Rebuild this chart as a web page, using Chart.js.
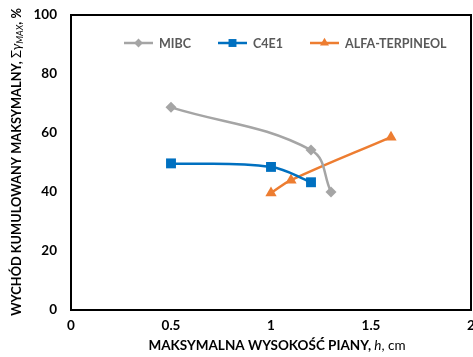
<!DOCTYPE html>
<html>
<head>
<meta charset="utf-8">
<script src="https://cdn.jsdelivr.net/npm/chart.js@4"></script>
<style>
  html, body { margin: 0; padding: 0; background: #fff; }
  #wrap { width: 473px; height: 357px; }
</style>
</head>
<body>
<div id="wrap"><canvas id="myChart" width="473" height="357"></canvas></div>
<script>
const xTickLabels = ["0", "0.5", "1", "1.5", "2"];
const yTickLabels = ["0", "20", "40", "60", "80", "100"];

const mibcX = [0.5, 1.2, 1.3];
const mibcY = [68.7, 54.2, 40];
const c4e1X = [0.5, 1.0, 1.2];
const c4e1Y = [49.7, 48.5, 43.3];
const alfaX = [1.0, 1.1, 1.6];
const alfaY = [39.7, 44, 58.6];

const FONT = "Lato, 'Open Sans', sans-serif";

const toPoints = (xs, ys) => xs.map((x, i) => ({ x: x, y: ys[i] }));

const series = [
  { label: "MIBC", color: "#A5A5A5", style: "rectRot", radius: 5.5, x: mibcX, y: mibcY },
  { label: "C4E1", color: "#0070C0", style: "rect", radius: 7, x: c4e1X, y: c4e1Y },
  { label: "ALFA-TERPINEOL", color: "#ED7D31", style: "triangle", radius: 6.5, x: alfaX, y: alfaY }
];

// frame round the plot, x tick labels, legend inside the plot, axis titles with italic / subscript parts
const extras = {
  id: "extras",
  afterDraw(chart) {
    const ctx = chart.ctx;
    const a = chart.chartArea;
    ctx.save();
    ctx.strokeStyle = "#000";
    ctx.lineWidth = 2;
    ctx.strokeRect(a.left, a.top, a.right - a.left, a.bottom - a.top);

    // x tick labels (drawn here so the last one may hang over the edge like in the original)
    const xs = chart.scales.x;
    ctx.font = "bold 13.5px " + FONT;
    ctx.fillStyle = "#000";
    ctx.textAlign = "center";
    ctx.textBaseline = "middle";
    xTickLabels.forEach(t => ctx.fillText(t, xs.getPixelForValue(parseFloat(t)), a.bottom + 16));

    // legend
    const legendX = [124, 218, 310];
    const ly = 43;
    ctx.font = "bold 12.5px " + FONT;
    series.forEach((s, i) => {
      const x0 = legendX[i];
      ctx.strokeStyle = s.color;
      ctx.lineWidth = 2.5;
      ctx.beginPath();
      ctx.moveTo(x0, ly);
      ctx.lineTo(x0 + 29, ly);
      ctx.stroke();
      ctx.fillStyle = s.color;
      Chart.helpers.drawPoint(ctx, { pointStyle: s.style, radius: s.radius * 0.8, borderWidth: 0 }, x0 + 14.5, ly);
      ctx.fillStyle = "#595959";
      ctx.textAlign = "left";
      ctx.fillText(s.label, x0 + 35, ly + 1);
    });

    // x axis title
    ctx.fillStyle = "#000";
    const parts = [
      ["bold 13.5px " + FONT, "MAKSYMALNA WYSOKOŚĆ PIANY, "],
      ["italic 13.5px " + FONT, "h"],
      ["13.5px " + FONT, ", cm"]
    ];
    let total = 0;
    parts.forEach(p => { ctx.font = p[0]; total += ctx.measureText(p[1]).width; });
    let tx = 277 - total / 2;
    ctx.textAlign = "left";
    parts.forEach(p => { ctx.font = p[0]; ctx.fillText(p[1], tx, 346); tx += ctx.measureText(p[1]).width; });

    // y axis title (rotated)
    ctx.translate(17, 162);
    ctx.rotate(-Math.PI / 2);
    const yparts = [
      ["bold 12.8px " + FONT, "WYCHÓD KUMULOWANY MAKSYMALNY, ", 0],
      ["13px " + FONT, "Σ", 0],
      ["italic 13px " + FONT, "γ", 0],
      ["italic 9px " + FONT, "MAX", 3],
      ["bold 12.8px " + FONT, ", %", 0]
    ];
    total = 0;
    yparts.forEach(p => { ctx.font = p[0]; total += ctx.measureText(p[1]).width; });
    tx = -total / 2;
    yparts.forEach(p => { ctx.font = p[0]; ctx.fillText(p[1], tx, p[2]); tx += ctx.measureText(p[1]).width; });
    ctx.restore();
  }
};

new Chart("myChart", {
  type: "line",
  data: {
    datasets: series.map(s => ({
      label: s.label,
      data: toPoints(s.x, s.y),
      borderColor: s.color,
      backgroundColor: s.color,
      borderWidth: 2.5,
      pointStyle: s.style,
      pointRadius: s.radius,
      pointBorderWidth: 0,
      tension: 0.4,
      fill: false
    }))
  },
  options: {
    responsive: false,
    animation: false,
    layout: { autoPadding: false, padding: { top: 15, right: 2, left: 0, bottom: 0 } },
    plugins: {
      legend: { display: false },
      tooltip: { enabled: false }
    },
    scales: {
      x: {
        type: "linear",
        min: 0,
        max: 2,
        afterBuildTicks: (scale) => { scale.ticks = xTickLabels.map(v => ({ value: parseFloat(v) })); },
        ticks: { display: false },
        grid: { display: false, drawTicks: false },
        border: { display: false },
        afterFit: (scale) => { scale.height = 47; }
      },
      y: {
        min: 0,
        max: 100,
        afterBuildTicks: (scale) => { scale.ticks = yTickLabels.map(v => ({ value: parseFloat(v) })); },
        ticks: {
          callback: (v) => yTickLabels.find(t => parseFloat(t) === v),
          font: { family: FONT, size: 13.5, weight: "bold" },
          color: "#000",
          padding: 14
        },
        grid: { display: false, drawTicks: false },
        border: { display: false },
        afterFit: (scale) => { scale.width = 71; scale.paddingTop = 0; scale.paddingBottom = 0; }
      }
    }
  },
  plugins: [extras]
});
</script>
</body>
</html>
